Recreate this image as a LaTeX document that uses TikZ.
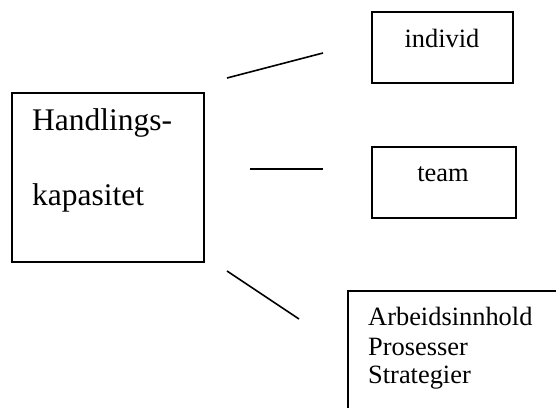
\documentclass[tikz,border=0pt]{standalone}
\usepackage{fontspec}
\setmainfont{Liberation Serif}
\usepackage{tikz}

\tikzset{
	box/.style={draw, line width=1.6pt, inner sep=0pt, anchor=north west},
	big/.style={font=\fontsize{31.5}{36}\selectfont, inner sep=0pt},
	small/.style={font=\fontsize{26.4}{31}\selectfont, inner sep=0pt},
	link/.style={line width=1.6pt}
}

\begin{document}
\begin{tikzpicture}[x=1pt, y=-1pt]
		\useasboundingbox (0,0) rectangle (556,407);
		\clip (0,0) rectangle (556,407);
		% boxes
		\node[box, minimum width=192pt, minimum height=169pt] (handl) at (11,92) {};
		\node[box, minimum width=141pt, minimum height=71pt] (indiv) at (371,11) {};
		\node[box, minimum width=144pt, minimum height=71pt] (team) at (371,146) {};
		\node[box, minimum width=230pt, minimum height=160pt] (arb) at (347,290) {};
		% texts
		\node[big, anchor=base west] (handl1) at (32,130) {Handlings-};
		\node[big, anchor=base west] (handl2) at (32,205) {kapasitet};
		\node[small, anchor=base] (indivtxt) at (442,47) {individ};
		\node[small, anchor=base] (teamtxt) at (443,181) {team};
		\node[small, anchor=base west] (arb1) at (368,325) {Arbeidsinnhold};
		\node[small, anchor=base west] (arb2) at (368,355) {Prosesser};
		\node[small, anchor=base west] (arb3) at (368,383) {Strategier};
		% lines
		\coordinate (a1) at (227,78);
		\coordinate (b1) at (323,53);
		\coordinate (a2) at (250,169);
		\coordinate (b2) at (323,169);
		\coordinate (a3) at (227,271);
		\coordinate (b3) at (299,319);
		\draw[link] (a1) -- (b1);
		\draw[link] (a2) -- (b2);
		\draw[link] (a3) -- (b3);
	\end{tikzpicture}
\end{document}
